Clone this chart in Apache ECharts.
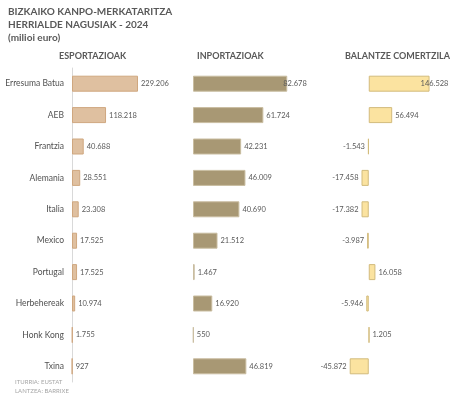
<!DOCTYPE html>
<html style="height: 100%">
<head>
    <meta charset="utf-8">
    <title>Bizkaiko kanpo-merkataritza</title>
    <script src="https://cdn.jsdelivr.net/npm/echarts@6/dist/echarts.min.js"></script>
</head>
<body style="height: 100%; margin: 0">
    <div id="container" style="width: 452px; height: 397px"></div>
    <script type="text/javascript">
        var countries = ['Erresuma Batua', 'AEB', 'Frantzia', 'Alemania', 'Italia',
                         'Mexico', 'Portugal', 'Herbehereak', 'Honk Kong', 'Txina'];
        var exports_  = [229.206, 118.218, 40.688, 28.551, 23.308, 17.525, 17.525, 10.974, 1.755, 0.927];
        var imports_  = [82.678, 61.724, 42.231, 46.009, 40.690, 21.512, 1.467, 16.920, 0.550, 46.819];
        var balance   = [146.528, 56.494, -1.543, -17.458, -17.382, -3.987, 16.058, -5.946, 1.205, -45.872];

        var FONT = 'Lato, "Open Sans", sans-serif';
        var TXT  = '#595959';

        // 229.206 -> "229.206", 0.927 -> "927"
        function fmt(v) {
            var n = Math.round(Math.abs(v) * 1000);
            var s = String(n).replace(/\B(?=(\d{3})+(?!\d))/g, '.');
            return (v < 0 ? '-' : '') + s;
        }

        function items(values, topShift) {
            return values.map(function (v, i) {
                var lab = { position: v < 0 ? 'left' : 'right' };
                if (i === 0 && topShift) lab.offset = [topShift, 0];
                return { value: v, label: lab };
            });
        }

        var dom = document.getElementById('container');
        var myChart = echarts.init(dom);

        var grids = [
            { left: 72,  width: 72,  top: 68, height: 314 },
            { left: 193, width: 114, top: 68, height: 314 },
            { left: 348, width: 83,  top: 68, height: 314 }
        ];
        var ranges = [[0, 250], [0, 100], [-50, 150]];

        var labelStyle = {
            show: true,
            distance: 3,
            fontSize: 7.5,
            color: TXT,
            fontFamily: FONT,
            formatter: function (p) { return fmt(p.value); }
        };

        function head(text, left, top, size) {
            return {
                text: text, left: left, top: top, padding: 0,
                textStyle: { fontSize: size, fontWeight: 'bold', color: TXT, fontFamily: FONT }
            };
        }

        var option = {
            animation: false,
            backgroundColor: '#ffffff',
            title: [
                head('BIZKAIKO KANPO-MERKATARITZA', 8, 7, 10),
                head('HERRIALDE NAGUSIAK - 2024', 8, 20, 10),
                head('(milioi euro)', 8, 33, 10),
                head('ESPORTAZIOAK', 59, 52, 9),
                head('INPORTAZIOAK', 197, 52, 9),
                head('BALANTZE COMERTZILA', 345, 52, 9),
                { text: 'ITURRIA: EUSTAT\nLANTZEA: BARRIXE', left: 15, top: 378, padding: 0,
                  textStyle: { fontSize: 6, fontWeight: 'normal', color: '#a6a6a6', fontFamily: FONT, lineHeight: 9 } }
            ],
            grid: grids,
            xAxis: ranges.map(function (r, i) {
                return {
                    type: 'value', gridIndex: i, min: r[0], max: r[1],
                    show: false, splitLine: { show: false }
                };
            }),
            yAxis: [0, 1, 2].map(function (i) {
                return {
                    type: 'category', gridIndex: i, data: countries, inverse: true,
                    axisTick: { show: false },
                    axisLine: { show: i === 0, lineStyle: { color: '#d9d9d9', width: 1 } },
                    axisLabel: {
                        show: i === 0, fontSize: 8.5, color: '#505050', fontFamily: FONT, margin: 8
                    },
                    splitLine: { show: false }
                };
            }),
            series: [{
                type: 'bar', xAxisIndex: 0, yAxisIndex: 0, barWidth: 16,
                itemStyle: { color: '#dfc0a0', borderColor: '#cfa77f', borderWidth: 1 },
                label: labelStyle,
                data: items(exports_)
            }, {
                type: 'bar', xAxisIndex: 1, yAxisIndex: 1, barWidth: 16,
                itemStyle: { color: '#a89874', borderColor: '#c9bda0', borderWidth: 1 },
                label: labelStyle,
                data: items(imports_, -7)
            }, {
                type: 'bar', xAxisIndex: 2, yAxisIndex: 2, barWidth: 16,
                itemStyle: { color: '#fbe3a0', borderColor: '#d2bb7c', borderWidth: 1 },
                label: labelStyle,
                data: items(balance, -12)
            }]
        };

        myChart.setOption(option, true);
    </script>
</body>
</html>
